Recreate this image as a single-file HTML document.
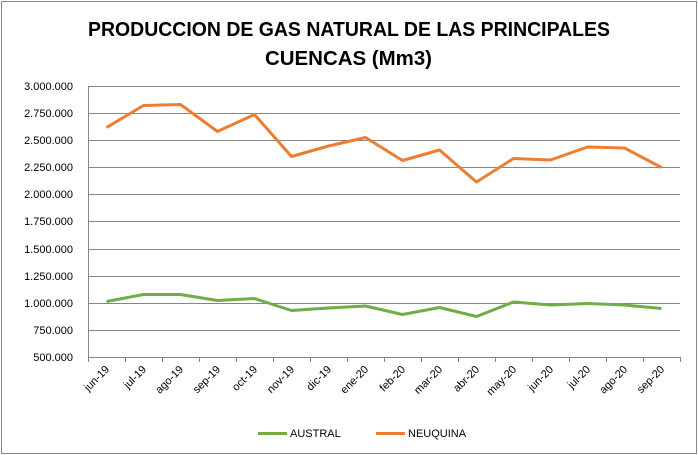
<!DOCTYPE html>
<html><head><style>
body{margin:0;background:#fff;}
svg{display:block;font-family:"Liberation Sans",Calibri,sans-serif;}
</style></head><body>
<svg width="698" height="455" xmlns="http://www.w3.org/2000/svg">
<rect x="1.5" y="1.5" width="695" height="452" fill="#fff" stroke="#868686"/>
<text x="88" y="36" textLength="522" lengthAdjust="spacingAndGlyphs" font-size="20" font-weight="bold" fill="#000">PRODUCCION DE GAS NATURAL DE LAS PRINCIPALES</text>
<text x="265" y="65" textLength="167" lengthAdjust="spacingAndGlyphs" font-size="20" font-weight="bold" fill="#000">CUENCAS (Mm3)</text>
<g stroke="#868686" stroke-width="1">
<line x1="88" y1="86.5" x2="680" y2="86.5"/>
<line x1="88" y1="113.5" x2="680" y2="113.5"/>
<line x1="88" y1="140.5" x2="680" y2="140.5"/>
<line x1="88" y1="167.5" x2="680" y2="167.5"/>
<line x1="88" y1="194.5" x2="680" y2="194.5"/>
<line x1="88" y1="221.5" x2="680" y2="221.5"/>
<line x1="88" y1="249.5" x2="680" y2="249.5"/>
<line x1="88" y1="276.5" x2="680" y2="276.5"/>
<line x1="88" y1="303.5" x2="680" y2="303.5"/>
<line x1="88" y1="330.5" x2="680" y2="330.5"/>
<line x1="88" y1="357.5" x2="680" y2="357.5"/>
<line x1="88.5" y1="86" x2="88.5" y2="357"/>
<path d="M88.5 357v5M125.5 357v5M162.5 357v5M199.5 357v5M236.5 357v5M273.5 357v5M310.5 357v5M347.5 357v5M384.5 357v5M421.5 357v5M458.5 357v5M495.5 357v5M532.5 357v5M569.5 357v5M606.5 357v5M643.5 357v5M680.5 357v5"/>
</g>
<g font-size="11" fill="#000" text-anchor="end">
<text x="73" y="90">3.000.000</text>
<text x="73" y="117">2.750.000</text>
<text x="73" y="144">2.500.000</text>
<text x="73" y="171">2.250.000</text>
<text x="73" y="198">2.000.000</text>
<text x="73" y="225">1.750.000</text>
<text x="73" y="253">1.500.000</text>
<text x="73" y="280">1.250.000</text>
<text x="73" y="307">1.000.000</text>
<text x="73" y="334">750.000</text>
<text x="73" y="361">500.000</text>
</g>
<g font-size="11" fill="#000" text-anchor="end">
<text transform="translate(110,370) rotate(-45)">jun-19</text>
<text transform="translate(147,370) rotate(-45)">jul-19</text>
<text transform="translate(184,370) rotate(-45)">ago-19</text>
<text transform="translate(221,370) rotate(-45)">sep-19</text>
<text transform="translate(258,370) rotate(-45)">oct-19</text>
<text transform="translate(295,370) rotate(-45)">nov-19</text>
<text transform="translate(332,370) rotate(-45)">dic-19</text>
<text transform="translate(369,370) rotate(-45)">ene-20</text>
<text transform="translate(406,370) rotate(-45)">feb-20</text>
<text transform="translate(443,370) rotate(-45)">mar-20</text>
<text transform="translate(480,370) rotate(-45)">abr-20</text>
<text transform="translate(517,370) rotate(-45)">may-20</text>
<text transform="translate(554,370) rotate(-45)">jun-20</text>
<text transform="translate(591,370) rotate(-45)">jul-20</text>
<text transform="translate(628,370) rotate(-45)">ago-20</text>
<text transform="translate(665,370) rotate(-45)">sep-20</text>
</g>
<polyline fill="none" stroke="#ED7D31" stroke-width="3" stroke-linejoin="round" points="106.5,127.5 143.5,105.5 180.5,104.5 217.5,131.5 254.5,114.5 291.5,156.5 328.5,146 365.5,137.5 402.5,160.5 439.5,150 476.5,182 513.5,158.5 550.5,160 587.5,147 624.5,148 661.5,167.5"/>
<polyline fill="none" stroke="#70AD47" stroke-width="3" stroke-linejoin="round" points="106.5,301.5 143.5,294.5 180.5,294.5 217.5,300.5 254.5,298.5 291.5,310.5 328.5,308 365.5,306 402.5,314.5 439.5,307.5 476.5,316.5 513.5,302 550.5,305 587.5,303.5 624.5,305 661.5,308.5"/>
<line x1="258" y1="433.5" x2="287" y2="433.5" stroke="#70AD47" stroke-width="3"/>
<text x="290" y="437" font-size="11">AUSTRAL</text>
<line x1="376" y1="433.5" x2="405" y2="433.5" stroke="#ED7D31" stroke-width="3"/>
<text x="408" y="437" font-size="11">NEUQUINA</text>
</svg>
</body></html>
